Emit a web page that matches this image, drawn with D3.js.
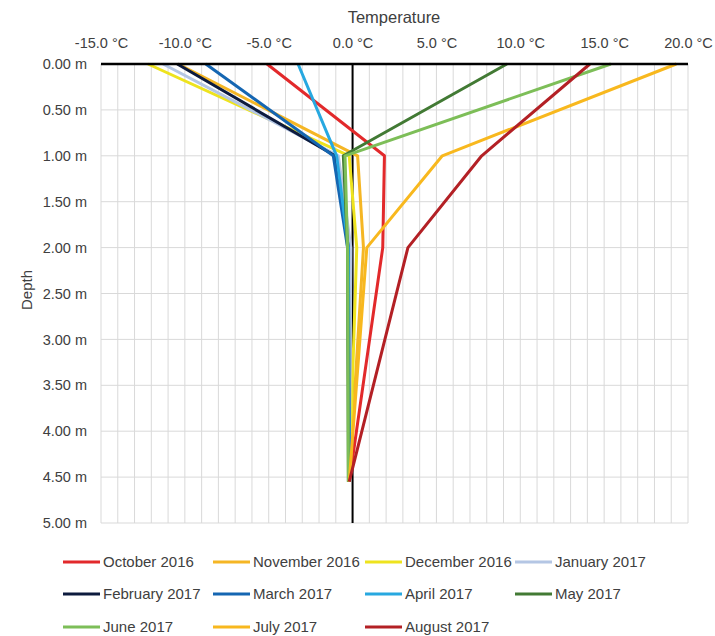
<!DOCTYPE html>
<html>
<head>
<meta charset="utf-8">
<script src="https://cdn.jsdelivr.net/npm/d3@7"></script>
<style>
  html, body { margin: 0; padding: 0; background: #fff; }
  svg { display: block; font-family: "Liberation Sans", Arial, sans-serif; }
</style>
</head>
<body>
<svg id="chart" width="715" height="636"></svg>
<script>
const depths = [0, 1, 2, 4.55];
const seriesNames = ["October 2016", "November 2016", "December 2016", "January 2017",
  "February 2017", "March 2017", "April 2017", "May 2017",
  "June 2017", "July 2017", "August 2017"];
const october2016  = [-5.1, 1.9, 1.8, -0.2];
const november2016 = [-10.4, 0.3, 0.65, -0.2];
const december2016 = [-12.2, -0.2, 0.25, -0.2];
const january2017  = [-11.3, -0.85, -0.1, -0.2];
const february2017 = [-10.45, -1.05, -0.25, -0.2];
const march2017    = [-8.75, -1.15, -0.3, -0.2];
const april2017    = [-3.25, -0.95, -0.25, -0.2];
const may2017      = [9.2, -0.55, -0.3, -0.25];
const june2017     = [15.4, -0.45, -0.3, -0.25];
const july2017     = [19.3, 5.35, 0.85, -0.2];
const august2017   = [14.15, 7.7, 3.3, -0.2];
const seriesValues = [october2016, november2016, december2016, january2017, february2017,
  march2017, april2017, may2017, june2017, july2017, august2017];
const seriesColors = ["#E2292B", "#F5B624", "#EEE31E", "#B4C6E4", "#0D1B3E", "#1566B2",
  "#27A8E0", "#427A34", "#7DBE58", "#F8B81E", "#B32025"];
const xTicks = [-15, -10, -5, 0, 5, 10, 15, 20];
const yTicks = [0, 0.5, 1, 1.5, 2, 2.5, 3, 3.5, 4, 4.5, 5];

const svg = d3.select("#chart");
const x = d3.scaleLinear().domain([-15, 20]).range([101, 688]);
const y = d3.scaleLinear().domain([0, 5]).range([64, 523]);

// gridlines
const grid = svg.append("g").attr("stroke", "#D9D9D9").attr("stroke-width", 1);
grid.selectAll("line.v").data(d3.range(-15, 21, 1)).join("line")
  .attr("x1", d => x(d)).attr("x2", d => x(d))
  .attr("y1", y(0)).attr("y2", y(5));
grid.selectAll("line.h").data(yTicks).join("line")
  .attr("x1", x(-15)).attr("x2", x(20))
  .attr("y1", d => y(d)).attr("y2", d => y(d));

// zero line
svg.append("line").attr("x1", x(0)).attr("x2", x(0)).attr("y1", y(0)).attr("y2", y(5))
  .attr("stroke", "#000").attr("stroke-width", 2);

// series lines
const line = d3.line().x(d => x(d[0])).y(d => y(d[1]));
svg.append("g").selectAll("path").data(seriesValues).join("path")
  .attr("d", vals => line(vals.map((v, i) => [v, depths[i]])))
  .attr("fill", "none")
  .attr("stroke", (d, i) => seriesColors[i])
  .attr("stroke-width", 3)
  .attr("stroke-linejoin", "round");

// top axis line
svg.append("line").attr("x1", x(-15)).attr("x2", x(20)).attr("y1", y(0)).attr("y2", y(0))
  .attr("stroke", "#000").attr("stroke-width", 2.5);

// axes
const xAxis = svg.append("g").attr("transform", `translate(0,${y(0)})`)
  .call(d3.axisTop(x).tickValues(xTicks).tickSize(0).tickPadding(16)
    .tickFormat(d => d.toFixed(1) + " °C"));
xAxis.select(".domain").remove();
xAxis.selectAll("text").attr("font-size", 14.5).attr("fill", "#404040")
  .attr("font-family", "Liberation Sans, Arial, sans-serif");

const yAxis = svg.append("g").attr("transform", `translate(${x(-15)},0)`)
  .call(d3.axisLeft(y).tickValues(yTicks).tickSize(0).tickPadding(14)
    .tickFormat(d => d.toFixed(2) + " m"));
yAxis.select(".domain").remove();
yAxis.selectAll("text").attr("font-size", 14.5).attr("fill", "#404040")
  .attr("font-family", "Liberation Sans, Arial, sans-serif");

// titles
svg.append("text").attr("x", 394).attr("y", 23).attr("text-anchor", "middle")
  .attr("font-size", 16.5).attr("fill", "#404040").text("Temperature");
svg.append("text").attr("transform", "translate(32,290) rotate(-90)").attr("text-anchor", "middle")
  .attr("font-size", 15).attr("fill", "#404040").text("Depth");

// legend
const colX = [63, 213, 365, 515];
const rowY = [562, 594, 627];
const leg = svg.append("g").selectAll("g").data(seriesNames).join("g")
  .attr("transform", (d, i) => `translate(${colX[i % 4]},${rowY[Math.floor(i / 4)]})`);
leg.append("line").attr("x1", 0).attr("x2", 37).attr("y1", 0).attr("y2", 0)
  .attr("stroke", (d, i) => seriesColors[i]).attr("stroke-width", 3);
leg.append("text").attr("x", 40).attr("y", 0).attr("dy", "0.36em")
  .attr("font-size", 15).attr("fill", "#404040").text(d => d);
</script>
</body>
</html>
